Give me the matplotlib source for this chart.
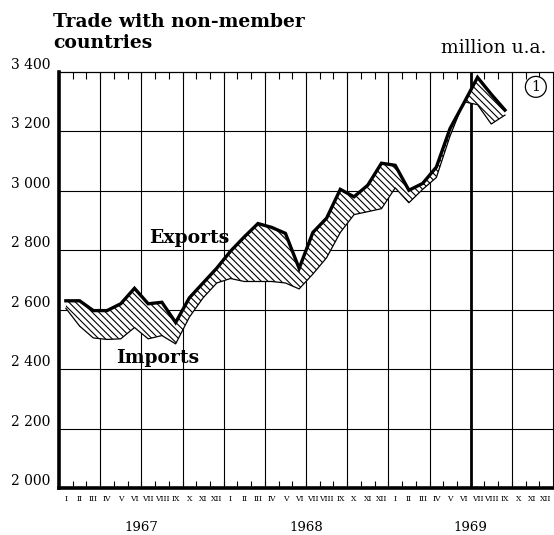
import numpy as np
import matplotlib
matplotlib.use("Agg")
import matplotlib.pyplot as plt
from matplotlib.ticker import FuncFormatter, FixedLocator

# monthly values, Jan 1967 .. Sep 1969 (million u.a.)
exports = [2630, 2630, 2597, 2597, 2620, 2672, 2620, 2625, 2557, 2640, 2690, 2740,
           2797, 2845, 2890, 2877, 2857, 2739, 2860, 2908, 3005, 2980, 3019, 3093,
           3086, 3002, 3025, 3080, 3210, 3295, 3382, 3325, 3272]
imports = [2605, 2545, 2505, 2500, 2502, 2540, 2502, 2513, 2485, 2575, 2640, 2690,
           2705, 2695, 2695, 2695, 2690, 2670, 2720, 2775, 2860, 2920, 2930, 2940,
           3010, 2960, 3005, 3045, 3185, 3300, 3290, 3225, 3255]
months = ["I", "II", "III", "IV", "V", "VI", "VII", "VIII", "IX", "X", "XI", "XII"]
years = ["1967", "1968", "1969"]
y_ticks = [2000, 2200, 2400, 2600, 2800, 3000, 3200, 3400]

plt.rcParams["font.family"] = ["DejaVu Serif"]
plt.rcParams["hatch.linewidth"] = 0.8

fig = plt.figure(figsize=(5.54, 5.35), dpi=100)
ax = fig.add_axes([59 / 554, 1 - 488 / 535, 494 / 554, 416 / 535])

x = np.arange(len(exports)) + 0.5
ax.fill_between(x, exports, imports, facecolor="white", edgecolor="black",
                hatch="\\" * 5, linewidth=0)
ax.plot(x, imports, color="black", lw=0.9)
ax.plot(x, exports, color="black", lw=2.4, solid_joinstyle="miter")

n_months = 12 * len(years)
ax.set_xlim(0, n_months)
ax.set_ylim(y_ticks[0], y_ticks[-1])

# grid: horizontal every 200, vertical every quarter
for v in y_ticks[1:-1]:
    ax.axhline(v, color="black", lw=0.8, zorder=0)
for q in range(3, n_months, 3):
    ax.axvline(q, color="black", lw=2.0 if q == 30 else 0.8, zorder=0)

ax.yaxis.set_major_locator(FixedLocator(y_ticks))
ax.yaxis.set_major_formatter(FuncFormatter(lambda v, p: f"{int(v) // 1000} {int(v) % 1000:03d}"))
ax.tick_params(axis="y", length=0, pad=6, labelsize=10)
for lab in ax.get_yticklabels():
    lab.set_verticalalignment("bottom")

ax.xaxis.set_major_locator(FixedLocator(range(1, n_months)))
ax.xaxis.set_major_formatter(FuncFormatter(lambda v, p: ""))
ax.xaxis.set_minor_locator(FixedLocator([i + 0.5 for i in range(n_months)]))
ax.set_xticklabels(months * len(years), minor=True)
ax.tick_params(axis="x", which="major", direction="in", length=5, width=0.8,
               top=True, bottom=True)
ax.tick_params(axis="x", which="minor", length=0, pad=5, labelsize=5.5)

for side in ["left", "bottom"]:
    ax.spines[side].set_linewidth(2.6)
ax.spines["top"].set_linewidth(0.9)
ax.spines["right"].set_linewidth(0.8)

for k, yr in enumerate(years):
    ax.text(12 * k + 6, -0.095, yr, transform=ax.get_xaxis_transform(),
            ha="center", va="center", fontsize=9.5)

ax.text(9.5, 2842, "Exports", fontsize=13.5, fontweight="bold", ha="center", va="center")
ax.text(7.2, 2439, "Imports", fontsize=13.5, fontweight="bold", ha="center", va="center")
ax.text(34.75, 3350, "1", fontsize=10, ha="center", va="center",
        bbox=dict(boxstyle="circle,pad=0.25", fc="white", ec="black", lw=0.9))

fig.text(53 / 554, 1 - 13 / 535, "Trade with non-member\ncountries", fontsize=13.5,
         fontweight="bold", ha="left", va="top", linespacing=1.25)
fig.text(546 / 554, 1 - 53 / 535, "million u.a.", fontsize=13.5, ha="right", va="baseline")

fig.savefig("out.png", dpi=100)
